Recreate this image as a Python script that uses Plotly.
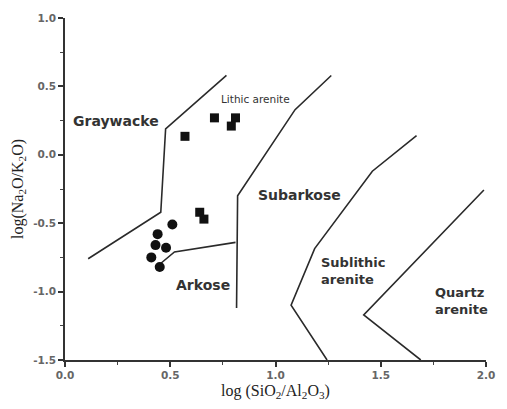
import plotly.graph_objects as go

# Sample compositions (log SiO2/Al2O3, log Na2O/K2O)
square_x = [0.71, 0.81, 0.79, 0.57, 0.64, 0.66]
square_y = [0.27, 0.27, 0.21, 0.135, -0.42, -0.47]
circle_x = [0.51, 0.44, 0.43, 0.48, 0.41, 0.45]
circle_y = [-0.51, -0.58, -0.66, -0.68, -0.75, -0.82]

# Field boundaries of the classification diagram
graywacke_x = [0.11, 0.455, 0.478, 0.767]
graywacke_y = [-0.76, -0.42, 0.19, 0.58]
subarkose_x = [1.265, 1.093, 0.82, 0.815]
subarkose_y = [0.58, 0.33, -0.30, -1.12]
arkose_x = [0.81, 0.52, 0.45]
arkose_y = [-0.64, -0.71, -0.80]
sublithic_x = [1.67, 1.46, 1.186, 1.074, 1.245]
sublithic_y = [0.14, -0.12, -0.686, -1.10, -1.50]
quartz_x = [1.99, 1.419, 1.69]
quartz_y = [-0.257, -1.171, -1.50]

# Field names
field_names = ["Graywacke", "Lithic arenite", "Subarkose", "Arkose",
               "Sublithic<br>arenite", "Quartz<br>arenite"]
field_x = [0.24, 0.907, 1.116, 0.656, 1.209, 1.884]
field_y = [0.25, 0.405, -0.293, -0.95, -0.85, -1.07]
field_size = [14, 10.5, 14, 14, 13, 13]
field_weight = ["bold", "normal", "bold", "bold", "bold", "bold"]
field_anchor = ["center", "center", "center", "center", "left", "center"]

# Tick labels (plain hyphen for negatives)
x_ticks = [0.0, 0.5, 1.0, 1.5, 2.0]
x_labels = ["0.0", "0.5", "1.0", "1.5", "2.0"]
y_ticks = [-1.5, -1.0, -0.5, 0.0, 0.5, 1.0]
y_labels = ["-1.5", "-1.0", "-0.5", "0.0", "0.5", "1.0"]

line_style = dict(color="#2a2a2a", width=1.6)

fig = go.Figure()
for bx, by in [(graywacke_x, graywacke_y), (subarkose_x, subarkose_y),
               (arkose_x, arkose_y), (sublithic_x, sublithic_y),
               (quartz_x, quartz_y)]:
    fig.add_trace(go.Scatter(x=bx, y=by, mode="lines", line=line_style,
                             hoverinfo="skip", showlegend=False))

fig.add_trace(go.Scatter(x=square_x, y=square_y, mode="markers",
                         marker=dict(symbol="square", size=9, color="#111"),
                         showlegend=False))
fig.add_trace(go.Scatter(x=circle_x, y=circle_y, mode="markers",
                         marker=dict(symbol="circle", size=10, color="#111"),
                         showlegend=False))

for name, fx, fy, fs, fw, anc in zip(field_names, field_x, field_y, field_size,
                                     field_weight, field_anchor):
    fig.add_annotation(x=fx, y=fy, text=name, showarrow=False, xanchor=anc,
                       align="left", font=dict(family="DejaVu Sans", size=fs,
                                               weight=fw, color="#333"))

axis_common = dict(showline=True, linecolor="#333", linewidth=1.6,
                   showgrid=False, zeroline=False, ticks="outside", ticklen=5,
                   tickwidth=1.5, tickcolor="#333",
                   tickfont=dict(family="DejaVu Sans", size=10.5, weight="bold",
                                 color="#666"),
                   minor=dict(ticks="outside", ticklen=3, tickwidth=1.3,
                              tickcolor="#444", dtick=0.25, tick0=0,
                              showgrid=False))

fig.update_xaxes(range=[0, 2.0], tickvals=x_ticks, ticktext=x_labels,
                 title=dict(text="log (SiO<sub>2</sub>/Al<sub>2</sub>O<sub>3</sub>)",
                            font=dict(family="Liberation Serif, Times New Roman",
                                      size=16, color="#222"), standoff=4),
                 **axis_common)
fig.update_yaxes(range=[-1.5, 1.0], tickvals=y_ticks, ticktext=y_labels,
                 title=dict(text="log(Na<sub>2</sub>O/K<sub>2</sub>O)",
                            font=dict(family="Liberation Serif, Times New Roman",
                                      size=16, color="#222"), standoff=6),
                 **axis_common)

fig.update_layout(width=507, height=409, margin=dict(l=65, r=12, t=16, b=42),
                  plot_bgcolor="white", paper_bgcolor="white")

fig.write_html("out.html")
